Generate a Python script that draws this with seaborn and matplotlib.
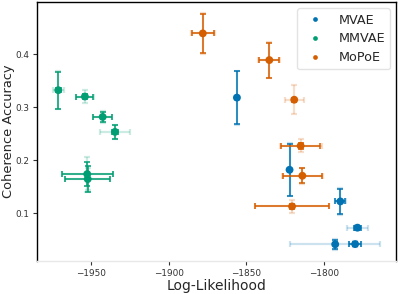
import numpy as np
import pandas as pd
import matplotlib
matplotlib.use("Agg")
import matplotlib.pyplot as plt
import seaborn as sns

models = ["MVAE", "MMVAE", "MoPoE"]

mvae_x = [-1856.1, -1822.3, -1789.7, -1778.7, -1793.0, -1780.2]
mvae_y = [0.318, 0.182, 0.1224, 0.0729, 0.0416, 0.042]
mvae_xerr = [0.5, 0.5, 3.3, 2.0, 1.0, 3.8]
mvae_yerr = [0.050, 0.049, 0.024, 0.004, 0.009, 0.004]
mvae_xerr_lo = [1.5, 1.2, 3.4, 6.9, 28.7, 3.9]
mvae_yerr_lo = [0.051, 0.050, 0.025, 0.005, 0.010, 0.005]

mmvae_x = [-1970.8, -1953.7, -1942.3, -1934.4, -1952.2, -1951.9]
mmvae_y = [0.332, 0.320, 0.2816, 0.2534, 0.1739, 0.1645]
mmvae_xerr = [1.5, 5.5, 5.9, 2.0, 16.4, 14.5]
mmvae_yerr = [0.035, 0.004, 0.0102, 0.0125, 0.022, 0.0245]
mmvae_xerr_lo = [3.6, 5.6, 6.0, 9.9, 16.5, 14.6]
mmvae_yerr_lo = [0.036, 0.0125, 0.011, 0.013, 0.033, 0.020]

mopoe_x = [-1878.0, -1835.3, -1819.3, -1815.2, -1814.1, -1820.7]
mopoe_y = [0.439, 0.3887, 0.314, 0.2271, 0.1707, 0.113]
mopoe_xerr = [7.0, 6.5, 1.0, 12.5, 12.5, 23.5]
mopoe_yerr = [0.037, 0.033, 0.004, 0.006, 0.014, 0.004]
mopoe_xerr_lo = [7.7, 7.0, 6.1, 13.5, 13.0, 24.0]
mopoe_yerr_lo = [0.038, 0.034, 0.027, 0.012, 0.015, 0.0116]

df = pd.DataFrame({
    "x": mvae_x + mmvae_x + mopoe_x,
    "y": mvae_y + mmvae_y + mopoe_y,
    "xerr": mvae_xerr + mmvae_xerr + mopoe_xerr,
    "yerr": mvae_yerr + mmvae_yerr + mopoe_yerr,
    "xerr_lo": mvae_xerr_lo + mmvae_xerr_lo + mopoe_xerr_lo,
    "yerr_lo": mvae_yerr_lo + mmvae_yerr_lo + mopoe_yerr_lo,
    "model": ["MVAE"] * 6 + ["MMVAE"] * 6 + ["MoPoE"] * 6,
})

sns.set_style("white")
plt.rcParams["font.family"] = ["DejaVu Sans"]

cb = sns.color_palette("colorblind")
colors = {"MVAE": cb[0], "MMVAE": cb[2], "MoPoE": cb[3]}

fig, ax = plt.subplots(figsize=(3.98, 2.94), dpi=100)
fig.subplots_adjust(left=0.092, right=0.996, top=0.993, bottom=0.112)

for m in models:
    d = df[df["model"] == m]
    ax.errorbar(d["x"], d["y"], xerr=d["xerr_lo"], yerr=d["yerr_lo"], fmt="none",
                ecolor=colors[m], alpha=0.2, elinewidth=1.6, capsize=2.5, capthick=1.6)
    ax.errorbar(d["x"], d["y"], xerr=d["xerr"], yerr=d["yerr"], fmt="none",
                ecolor=colors[m], elinewidth=1.1, capsize=2.5, capthick=1.1)

sns.scatterplot(data=df, x="x", y="y", hue="model", hue_order=models,
                palette=colors, s=32, edgecolor="none", ax=ax, zorder=3)

ax.set_xlim(-1984.7, -1753.7)
ax.set_ylim(0.01, 0.498)
ax.set_xticks([-1950, -1900, -1850, -1800])
ax.set_yticks([0.1, 0.2, 0.3, 0.4])
ax.set_yticklabels(["0.1", "0.2", "0.3", "0.4"])
ax.tick_params(axis="both", labelsize=6.4, length=3, width=0.8, direction="out",
               colors="#333333", bottom=True, left=True, pad=2.5)
ax.set_xlabel("Log-Likelihood", fontsize=10, labelpad=1)
ax.set_ylabel("Coherence Accuracy", fontsize=9.4)
ax.yaxis.set_label_coords(-0.061, 0.5)

for s in ["left", "top", "right"]:
    ax.spines[s].set_color("black")
    ax.spines[s].set_linewidth(1.0)
ax.spines["bottom"].set_color("#e8e8e8")
ax.spines["bottom"].set_linewidth(1.0)

leg = ax.legend(loc="upper right", fontsize=9.2, frameon=True, markerscale=0.6,
                borderaxespad=0.5, labelspacing=0.45)
leg.get_frame().set_edgecolor("#dddddd")

plt.savefig("out.png", dpi=100)
